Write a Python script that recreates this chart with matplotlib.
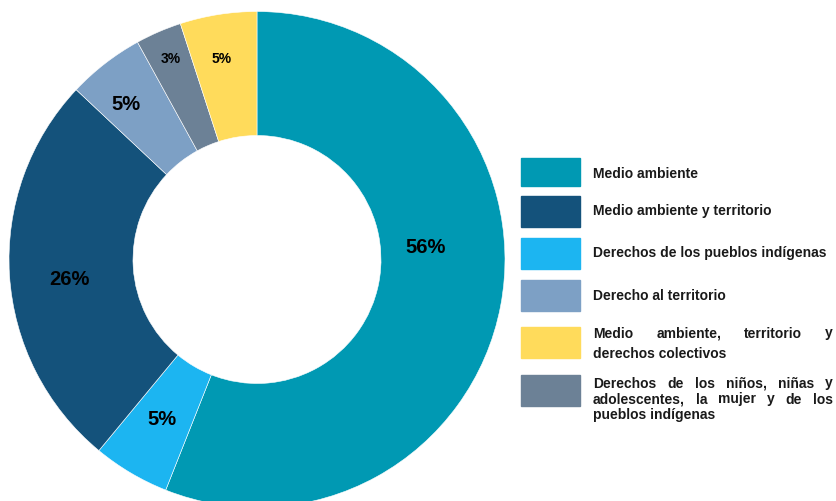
"""Donut chart: distribution of cases by type of right."""

import numpy as np
import matplotlib
matplotlib.use('Agg')
import matplotlib.pyplot as plt

plt.rcParams['font.family'] = ['Liberation Sans', 'DejaVu Sans']

# Legend order
categories = [
    'Medio ambiente',
    'Medio ambiente y territorio',
    'Derechos de los pueblos indígenas',
    'Derecho al territorio',
    'Medio ambiente, territorio y derechos colectivos',
    'Derechos de los niños, niñas y adolescentes, la mujer y de los pueblos indígenas',
]
values = [56, 26, 5, 5, 5, 3]
colors = ['#0099B3', '#14527B', '#1CB5F1', '#7DA0C5', '#FFDB5B', '#6C8196']

# Order of the wedges going clockwise from 12 o'clock
pie_order = [0, 2, 1, 3, 5, 4]

# Wrapped legend text (multi-line entries are justified)
legend_lines = [
    ['Medio ambiente'],
    ['Medio ambiente y territorio'],
    ['Derechos de los pueblos indígenas'],
    ['Derecho al territorio'],
    ['Medio ambiente, territorio y', 'derechos colectivos'],
    ['Derechos de los niños, niñas y', 'adolescentes, la mujer y de los', 'pueblos indígenas'],
]

W, H = 837, 501
fig = plt.figure(figsize=(W / 100, H / 100), dpi=100)


def fx(px):
    return px / W


def fy(py):
    return 1 - py / H


# donut axes: centre (257, 259.5), radius 248 px
cx, cy, R = 257, 259.5, 248
ax = fig.add_axes([fx(cx - R), fy(cy + R), 2 * R / W, 2 * R / H])
vals = [values[i] for i in pie_order]
cols = [colors[i] for i in pie_order]
wedges, _ = ax.pie(vals, colors=cols, startangle=90, counterclock=False,
                   radius=1, wedgeprops=dict(width=0.5, edgecolor='white', linewidth=0.4))
ax.set_xlim(-1, 1)
ax.set_ylim(-1, 1)
ax.set_aspect('equal')
ax.axis('off')

# label radius / angle offset / size per wedge (pie order)
label_r = [0.68, 0.75, 0.76, 0.82, 0.88, 0.82]
label_dang = [15, 0, 2.5, 2.5, 0, 1]
label_size = [14.5, 14.5, 14.5, 14.5, 10, 10]
for w, v, r, da, s in zip(wedges, vals, label_r, label_dang, label_size):
    ang = np.deg2rad((w.theta1 + w.theta2) / 2 + da)
    ax.text(r * np.cos(ang), r * np.sin(ang), f'{v}%', ha='center', va='center',
            fontsize=s, fontweight='bold', color='black')

# legend
box_x0, box_w = 521, 59
box_tops = [158, 196, 238, 280, 327, 375]
box_h = [28, 31, 31, 31, 31, 31]
line_y = [[174], [211], [253], [295], [333, 353], [383, 399, 415]]
text_x0, text_x1 = 593, 833
fs = 10

renderer = fig.canvas.get_renderer()
for i in range(len(categories)):
    fig.patches.append(plt.Rectangle((fx(box_x0), fy(box_tops[i] + box_h[i])),
                                     box_w / W, box_h[i] / H, color=colors[i],
                                     transform=fig.transFigure, figure=fig))
    lines = legend_lines[i]
    for j, (line, y) in enumerate(zip(lines, line_y[i])):
        base = fy(y + 4.5)
        last = j == len(lines) - 1
        if last:
            fig.text(fx(text_x0), base, line, ha='left', va='baseline',
                     fontsize=fs, fontweight='bold', color='#1a1a1a')
            continue
        words = line.split(' ')
        texts = [fig.text(0, base, wd, ha='left', va='baseline', fontsize=fs,
                          fontweight='bold', color='#1a1a1a') for wd in words]
        widths = [t.get_window_extent(renderer).width for t in texts]
        gap = (text_x1 - text_x0 - sum(widths)) / (len(words) - 1)
        x = text_x0
        for t, wdt in zip(texts, widths):
            t.set_x(fx(x))
            x += wdt + gap

fig.savefig('out.png', dpi=100)
